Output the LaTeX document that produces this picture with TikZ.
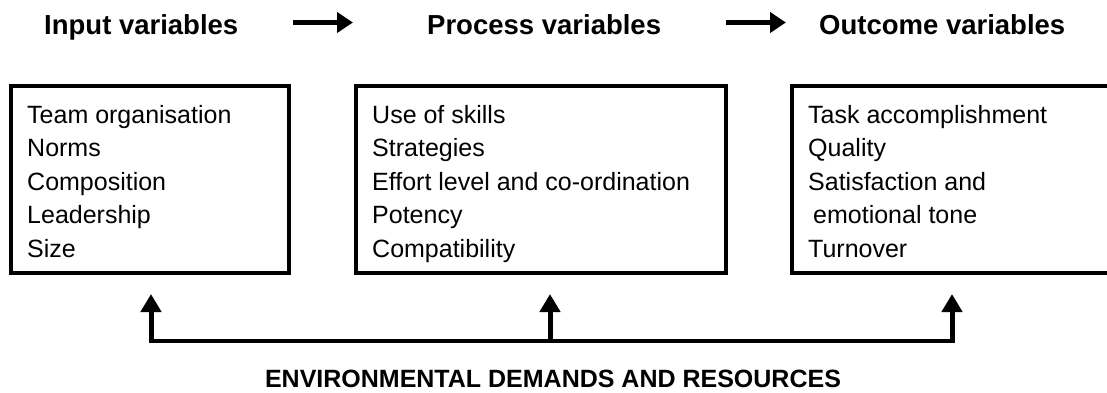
\documentclass[tikz,border=0pt]{standalone}
\usepackage{fontspec}
\setmainfont{Liberation Sans}
\usetikzlibrary{arrows.meta}
\begin{document}
\begin{tikzpicture}[x=1pt,y=-1pt,
  box/.style={draw, line width=3.5pt, inner sep=0pt, outer sep=0pt, minimum height=187pt},
  head/.style={font=\fontsize{27.5}{30}\selectfont\bfseries, inner sep=0pt, anchor=base west},
  item/.style={font=\fontsize{25}{30}\selectfont, inner sep=0pt, anchor=base west},
  envtext/.style={font=\fontsize{25}{30}\selectfont\bfseries, inner sep=0pt, anchor=base},
  toparrow/.style={line width=5.5pt, -{Triangle[length=16pt,width=20pt]}},
  uparrow/.style={line width=5pt, -{Triangle[length=18pt,width=20pt]}},
  baseline/.style={line width=3.3pt}]
\useasboundingbox (0,0) rectangle (1107,392);

% headings
\node[head] (hin) at (44,34) {Input variables};
\node[head] (hpr) at (427,34) {Process variables};
\node[head] (hout) at (819,34) {Outcome variables};
\coordinate (a1s) at (293,22.5);
\coordinate (a1e) at (353,22.5);
\coordinate (a2s) at (726,22.5);
\coordinate (a2e) at (786,22.5);
\draw[toparrow] (a1s) -- (a1e);
\draw[toparrow] (a2s) -- (a2e);

% boxes
\node[box, minimum width=278pt] (b1) at (150,179.5) {};
\node[box, minimum width=370pt] (b2) at (541,179.5) {};
\node[box, minimum width=328pt] (b3) at (956,179.5) {};

% box texts
\foreach \t [count=\i] in {Team organisation, Norms, Composition, Leadership, Size}
  \node[item] (p\i) at (27,{123+33.5*(\i-1)}) {\t};
\foreach \t [count=\i] in {Use of skills, Strategies, Effort level and co-ordination, Potency, Compatibility}
  \node[item] (q\i) at (372,{123+33.5*(\i-1)}) {\t};
\foreach \t [count=\i] in {Task accomplishment, Quality, Satisfaction and, \hspace*{5pt}emotional tone, Turnover}
  \node[item] (r\i) at (808,{123+33.5*(\i-1)}) {\t};

% environment connectors
\coordinate (l1) at (151,341);
\coordinate (l2) at (550,341);
\coordinate (l3) at (952,341);
\coordinate (s1) at (151,342.6);
\coordinate (s2) at (550,342.6);
\coordinate (s3) at (952,342.6);
\coordinate (t1) at (151,294);
\coordinate (t2) at (550,294);
\coordinate (t3) at (952,294);
\draw[baseline] ([xshift=-2.5pt]l1) -- ([xshift=2.5pt]l3);
\draw[uparrow] (s1) -- (t1);
\draw[uparrow] (s2) -- (t2);
\draw[uparrow] (s3) -- (t3);

\node[envtext] (env) at (553,387) {ENVIRONMENTAL DEMANDS AND RESOURCES};
\end{tikzpicture}
\end{document}
